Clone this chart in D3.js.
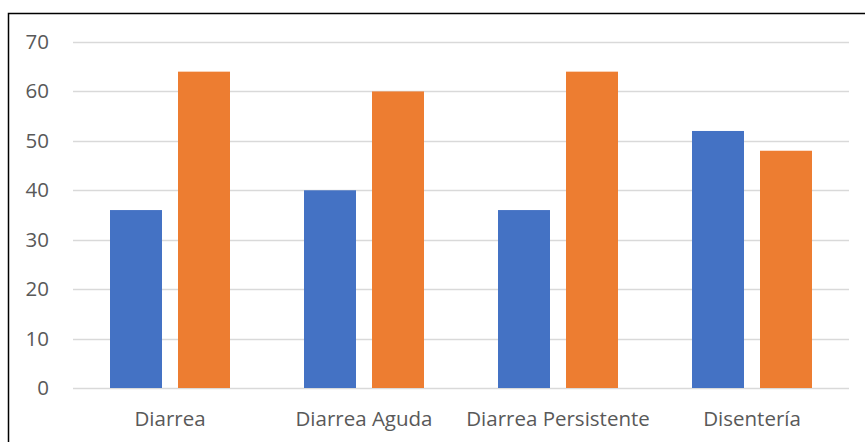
<!DOCTYPE html>
<html>
  <head>
    <meta charset="utf-8">
    <title>Diarrea</title>
    <script src="https://cdn.jsdelivr.net/npm/d3@7"></script>
    <style>
      body { margin: 0; background: #fff; }
      text { font-family: "Open Sans", sans-serif; fill: #595959; }
    </style>
  </head>
  <body>
    <script>

// data
var categories = ["Diarrea", "Diarrea Aguda", "Diarrea Persistente", "Disentería"];
var seriesA = [36, 40, 36, 52];
var seriesB = [64, 60, 64, 48];
var yTicks = [0, 10, 20, 30, 40, 50, 60, 70];

var w = 865;
var h = 442;

var svg = d3.select("body")
  .append("svg")
  .attr("width", w)
  .attr("height", h);

// frame (runs off the right and bottom edge)
svg.append("rect")
   .attr("x", 8.5)
   .attr("y", 13.5)
   .attr("width", 900)
   .attr("height", 500)
   .attr("fill", "none")
   .attr("stroke", "#000")
   .attr("stroke-width", 1.5);

var x0 = d3.scaleBand()
  .domain(categories)
  .range([73, 849]);

var yScale = d3.scaleLinear()
  .domain([0, 70])
  .range([388, 42]);

// grid lines
svg.selectAll("line.grid")
   .data(yTicks)
   .enter()
   .append("line")
   .attr("class", "grid")
   .attr("x1", 73)
   .attr("x2", 849)
   .attr("y1", function(d){ return Math.round(yScale(d)) + 0.5; })
   .attr("y2", function(d){ return Math.round(yScale(d)) + 0.5; })
   .attr("stroke", "#d9d9d9")
   .attr("stroke-width", 1.5);

// y axis labels
var yAxis = d3.axisLeft(yScale).tickValues(yTicks).tickSize(0).tickPadding(0);
var gy = svg.append("g")
   .attr("transform", "translate(49,0)")
   .call(yAxis);
gy.select(".domain").remove();
gy.selectAll("text")
  .attr("font-size", "20.5px")
  .attr("font-family", "Open Sans, sans-serif")
  .attr("fill", "#595959");

// bars
var bw = 52, gap = 16;
var groupW = bw * 2 + gap;

function barX(cat, k) {
  return x0(cat) + (x0.bandwidth() - groupW) / 2 + k * (bw + gap);
}

svg.selectAll("rect.a")
   .data(seriesA)
   .enter()
   .append("rect")
   .attr("class", "a")
   .attr("x", function(d, i){ return barX(categories[i], 0); })
   .attr("y", function(d){ return yScale(d); })
   .attr("width", bw)
   .attr("height", function(d){ return yScale(0) - yScale(d); })
   .attr("fill", "#4472c4");

svg.selectAll("rect.b")
   .data(seriesB)
   .enter()
   .append("rect")
   .attr("class", "b")
   .attr("x", function(d, i){ return barX(categories[i], 1); })
   .attr("y", function(d){ return yScale(d); })
   .attr("width", bw)
   .attr("height", function(d){ return yScale(0) - yScale(d); })
   .attr("fill", "#ed7d31");

// x axis labels
var xAxis = d3.axisBottom(x0).tickSize(0).tickPadding(0);
var gx = svg.append("g")
   .attr("transform", "translate(0,411)")
   .call(xAxis);
gx.select(".domain").remove();
gx.selectAll("text")
  .attr("font-size", "20.5px")
  .attr("font-family", "Open Sans, sans-serif")
  .attr("fill", "#595959");

    </script>
  </body>
</html>
